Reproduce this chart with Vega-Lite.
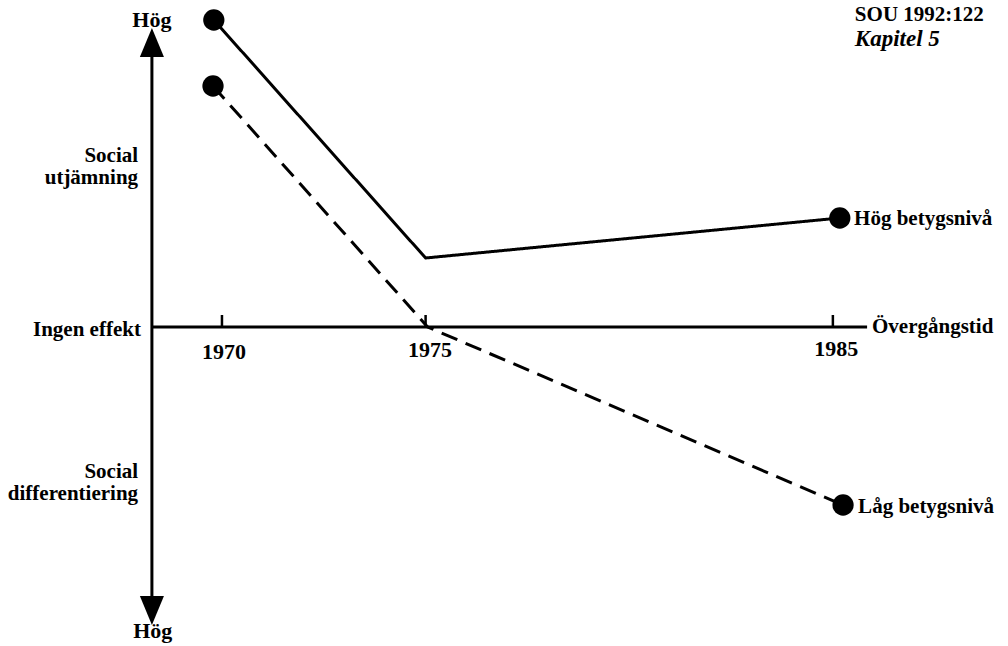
{
  "$schema": "https://vega.github.io/schema/vega-lite/v6.json",
  "width": 1008,
  "height": 646,
  "autosize": {"type": "fit", "contains": "padding"},
  "padding": 0,
  "background": "white",
  "config": {"view": {"stroke": null}},
  "datasets": {
    "series": [
      {"series": "Hög", "year": 1969.8, "effect": 3.07},
      {"series": "Hög", "year": 1975.0, "effect": 0.69},
      {"series": "Hög", "year": 1985.17, "effect": 1.09},
      {"series": "Låg", "year": 1969.78, "effect": 2.41},
      {"series": "Låg", "year": 1975.05, "effect": 0.0},
      {"series": "Låg", "year": 1985.25, "effect": -1.78}
    ],
    "ends": [
      {"series": "Hög", "year": 1969.8, "effect": 3.07},
      {"series": "Hög", "year": 1985.17, "effect": 1.09},
      {"series": "Låg", "year": 1969.78, "effect": 2.41},
      {"series": "Låg", "year": 1985.25, "effect": -1.78}
    ],
    "vaxis": [{"year": 1968.28, "top": 2.9, "bottom": -2.9}],
    "haxis": [{"start": 1968.28, "end": 1985.84, "effect": 0}],
    "ticks": [{"year": 1970, "low": 0, "high": 0.12}, {"year": 1975, "low": 0, "high": 0.12}, {"year": 1985, "low": 0, "high": 0.12}],
    "arrowUp": [{"year": 1968.28, "effect": 2.845}],
    "arrowDown": [{"year": 1968.28, "effect": -2.835}],
    "yearLabels": [{"year": 1970.05, "effect": -0.32, "label": "1970"}, {"year": 1975.11, "effect": -0.3, "label": "1975"}, {"year": 1985.08, "effect": -0.29, "label": "1985"}],
    "leftLabels": [
      {"year": 1967.94, "effect": 1.65, "label": "Social\nutjämning"},
      {"year": 1968.01, "effect": -0.09, "label": "Ingen effekt"},
      {"year": 1967.94, "effect": -1.51, "label": "Social\ndifferentiering"}
    ],
    "centerLabels": [
      {"year": 1968.28, "effect": 3.0, "label": "Hög"},
      {"year": 1968.3, "effect": -3.11, "label": "Hög"}
    ],
    "rightLabels": [
      {"year": 1985.52, "effect": 1.02, "label": "Hög betygsnivå"},
      {"year": 1985.62, "effect": -1.86, "label": "Låg betygsnivå"},
      {"year": 1985.96, "effect": -0.06, "label": "Övergångstid"}
    ],
    "header": [{"year": 1985.54, "effect": 3.06, "label": "SOU 1992:122"}],
    "chapter": [{"year": 1985.54, "effect": 2.81, "label": "Kapitel 5"}]
  },
  "encoding": {
    "x": {"field": "year", "type": "quantitative", "scale": {"domain": [1964.55, 1989.3], "nice": false, "zero": false}, "axis": null},
    "y": {"field": "effect", "type": "quantitative", "scale": {"domain": [-3.19, 3.27], "nice": false, "zero": false}, "axis": null}
  },
  "layer": [
    {
      "data": {"name": "vaxis"},
      "mark": {"type": "rule", "strokeWidth": 3, "color": "black"},
      "encoding": {"y": {"field": "top", "type": "quantitative"}, "y2": {"field": "bottom"}}
    },
    {
      "data": {"name": "haxis"},
      "mark": {"type": "rule", "strokeWidth": 3, "color": "black"},
      "encoding": {"x": {"field": "start", "type": "quantitative"}, "x2": {"field": "end"}}
    },
    {
      "data": {"name": "ticks"},
      "mark": {"type": "rule", "strokeWidth": 2.5, "color": "black"},
      "encoding": {"y": {"field": "low", "type": "quantitative"}, "y2": {"field": "high"}}
    },
    {
      "data": {"name": "arrowUp"},
      "mark": {"type": "point", "shape": "M0,-1L-0.83,1L0.83,1Z", "filled": true, "color": "black", "opacity": 1, "size": 841}
    },
    {
      "data": {"name": "arrowDown"},
      "mark": {"type": "point", "shape": "M0,1L-0.83,-1L0.83,-1Z", "filled": true, "color": "black", "opacity": 1, "size": 841}
    },
    {
      "data": {"name": "series"},
      "mark": {"type": "line", "strokeWidth": 3, "color": "black"},
      "encoding": {
        "detail": {"field": "series"},
        "order": {"field": "year", "type": "quantitative"},
        "strokeDash": {"field": "series", "type": "nominal", "scale": {"domain": ["Hög", "Låg"], "range": [[1, 0], [17, 9]]}, "legend": null}
      }
    },
    {
      "data": {"name": "ends"},
      "mark": {"type": "circle", "color": "black", "opacity": 1, "size": 452}
    },
    {
      "data": {"name": "yearLabels"},
      "mark": {"type": "text", "font": "Liberation Serif", "fontWeight": "bold", "fontSize": 22, "align": "center", "baseline": "alphabetic", "color": "black"},
      "encoding": {"text": {"field": "label"}}
    },
    {
      "data": {"name": "leftLabels"},
      "mark": {"type": "text", "font": "Liberation Serif", "fontWeight": "bold", "fontSize": 21, "align": "right", "baseline": "alphabetic", "lineBreak": "\n", "lineHeight": 22, "color": "black"},
      "encoding": {"text": {"field": "label"}}
    },
    {
      "data": {"name": "centerLabels"},
      "mark": {"type": "text", "font": "Liberation Serif", "fontWeight": "bold", "fontSize": 22, "align": "center", "baseline": "alphabetic", "color": "black"},
      "encoding": {"text": {"field": "label"}}
    },
    {
      "data": {"name": "rightLabels"},
      "mark": {"type": "text", "font": "Liberation Serif", "fontWeight": "bold", "fontSize": 21, "align": "left", "baseline": "alphabetic", "color": "black"},
      "encoding": {"text": {"field": "label"}}
    },
    {
      "data": {"name": "header"},
      "mark": {"type": "text", "font": "Liberation Serif", "fontWeight": "bold", "fontSize": 21, "align": "left", "baseline": "alphabetic", "color": "black"},
      "encoding": {"text": {"field": "label"}}
    },
    {
      "data": {"name": "chapter"},
      "mark": {"type": "text", "font": "Liberation Serif", "fontWeight": "bold", "fontStyle": "italic", "fontSize": 23, "align": "left", "baseline": "alphabetic", "color": "black"},
      "encoding": {"text": {"field": "label"}}
    }
  ]
}
